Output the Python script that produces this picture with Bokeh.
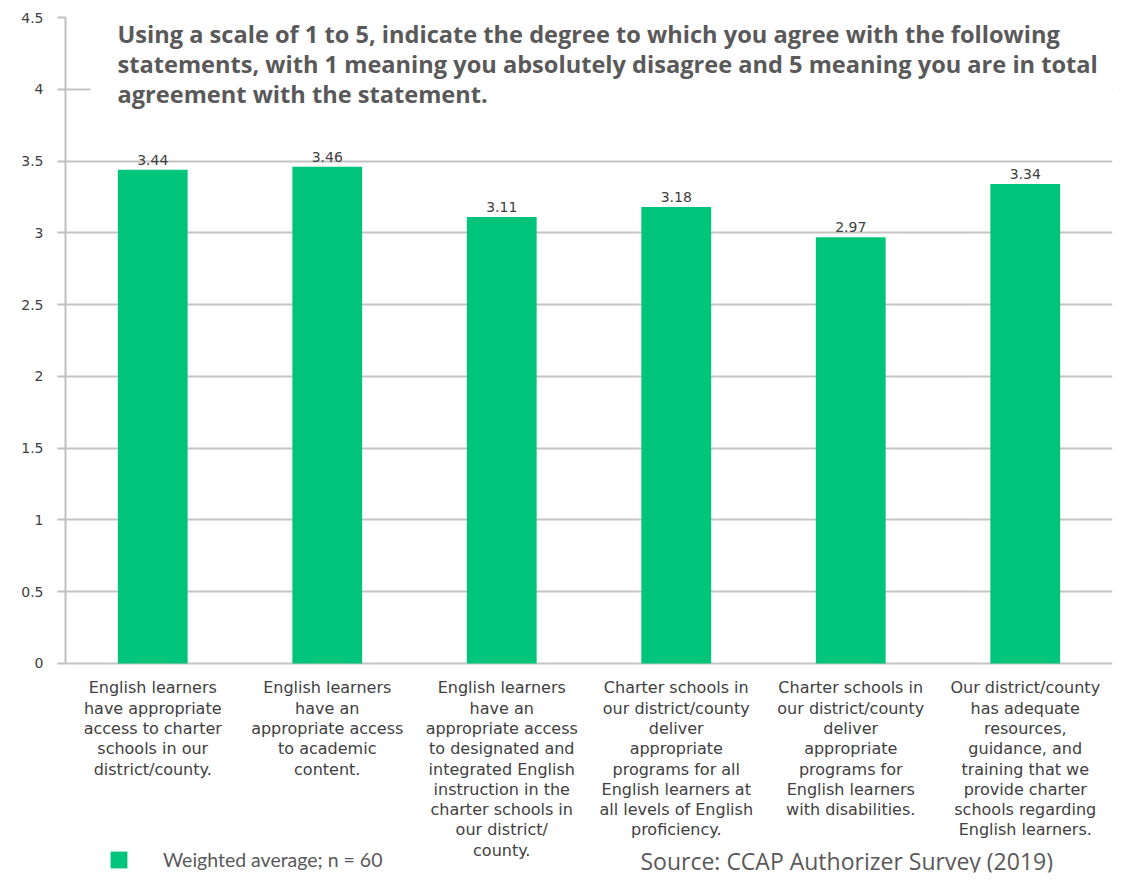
from bokeh.plotting import figure
from bokeh.models import (ColumnDataSource, LabelSet, Label, BoxAnnotation,
                          FixedTicker, Legend, LegendItem)
from bokeh.core.properties import value
from bokeh.embed import file_html
from bokeh.resources import INLINE

categories = [
    "English learners\nhave appropriate\naccess to charter\nschools in our\ndistrict/county.",
    "English learners\nhave an\nappropriate access\nto academic\ncontent.",
    "English learners\nhave an\nappropriate access\nto designated and\nintegrated English\ninstruction in the\ncharter schools in\nour district/\ncounty.",
    "Charter schools in\nour district/county\ndeliver\nappropriate\nprograms for all\nEnglish learners at\nall levels of English\nproficiency.",
    "Charter schools in\nour district/county\ndeliver\nappropriate\nprograms for\nEnglish learners\nwith disabilities.",
    "Our district/county\nhas adequate\nresources,\nguidance, and\ntraining that we\nprovide charter\nschools regarding\nEnglish learners.",
]
values = [3.44, 3.46, 3.11, 3.18, 2.97, 3.34]
value_labels = ["3.44", "3.46", "3.11", "3.18", "2.97", "3.34"]
y_ticks = [0, 0.5, 1, 1.5, 2, 2.5, 3, 3.5, 4, 4.5]
y_tick_labels = ["0", "0.5", "1", "1.5", "2", "2.5", "3", "3.5", "4", "4.5"]
title_lines = [
    "Using a scale of 1 to 5, indicate the degree to which you agree with the following",
    "statements, with 1 meaning you absolutely disagree and 5 meaning you are in total",
    "agreement with the statement.",
]
legend_text = "Weighted average; n = 60"
source_text = "Source: CCAP Authorizer Survey (2019)"

BAR = "#00C47A"
CHART_FONT = "DejaVu Sans"

src = ColumnDataSource(dict(cat=categories, val=values, lab=value_labels))

p = figure(x_range=categories, y_range=(-1.456, 4.5), width=1120, height=880,
           output_backend="svg", toolbar_location=None, x_axis_location=None,
           min_border_left=65, min_border_right=8, min_border_top=17,
           min_border_bottom=8)
p.outline_line_color = None
p.background_fill_color = "white"
p.border_fill_color = "white"

bars = p.vbar(x="cat", top="val", width=0.4, source=src, fill_color=BAR,
              line_color=None)

# value labels
p.add_layout(LabelSet(x="cat", y="val", text="lab", source=src, y_offset=5,
                      text_align="center", text_baseline="bottom",
                      text_font=value(CHART_FONT), text_font_size="14px",
                      text_color="#404040"))

# category labels below the zero line
p.text(x="cat", y=0, text="cat", source=src, y_offset=15,
       text_align="center", text_baseline="top",
       text_font=value(CHART_FONT), text_font_size="16px",
       text_color="#404040", text_line_height=1.066)

# y axis
p.yaxis.bounds = (0, 4.5)
p.yaxis.ticker = FixedTicker(ticks=y_ticks)
p.yaxis.major_label_overrides = {t: s for t, s in zip(y_ticks, y_tick_labels)}
p.yaxis.axis_line_color = "#BFBFBF"
p.yaxis.axis_line_width = 2
p.yaxis.major_tick_line_color = "#BFBFBF"
p.yaxis.major_tick_line_width = 2
p.yaxis.major_tick_out = 8
p.yaxis.major_tick_in = 0
p.yaxis.minor_tick_line_color = None
p.yaxis.major_label_standoff = 14
p.yaxis.major_label_text_font = CHART_FONT
p.yaxis.major_label_text_font_size = "14px"
p.yaxis.major_label_text_color = "#404040"

p.xgrid.grid_line_color = None
p.ygrid.ticker = FixedTicker(ticks=y_ticks)
p.ygrid.grid_line_color = "#C4C4C4"
p.ygrid.grid_line_width = 2

# white area behind the title
p.add_layout(BoxAnnotation(left=0.143, bottom=3.71, fill_color="white",
                           fill_alpha=1.0, line_color=None, level="glyph"))

title_y = [4.387, 4.178, 3.969]
for txt, ty in zip(title_lines, title_y):
    p.add_layout(Label(x=0.298, y=ty, text=txt, text_font="Open Sans",
                       text_font_size="23.6px", text_font_style="bold",
                       text_color="#595959", text_baseline="middle"))

# legend
legend = Legend(items=[LegendItem(label=legend_text, renderers=[bars])],
                location=(43, 1), orientation="horizontal",
                border_line_color=None, background_fill_alpha=0,
                padding=0, margin=0, glyph_width=21, glyph_height=21,
                label_standoff=34, label_text_font="Lato",
                label_text_font_size="19.5px", label_text_color="#595959")
p.add_layout(legend, "center")

p.add_layout(Label(x=3.295, y=-1.379, text=source_text, text_font="Open Sans",
                   text_font_size="23px", text_color="#595959",
                   text_baseline="middle"))

open("out.html", "w").write(file_html(p, INLINE))
